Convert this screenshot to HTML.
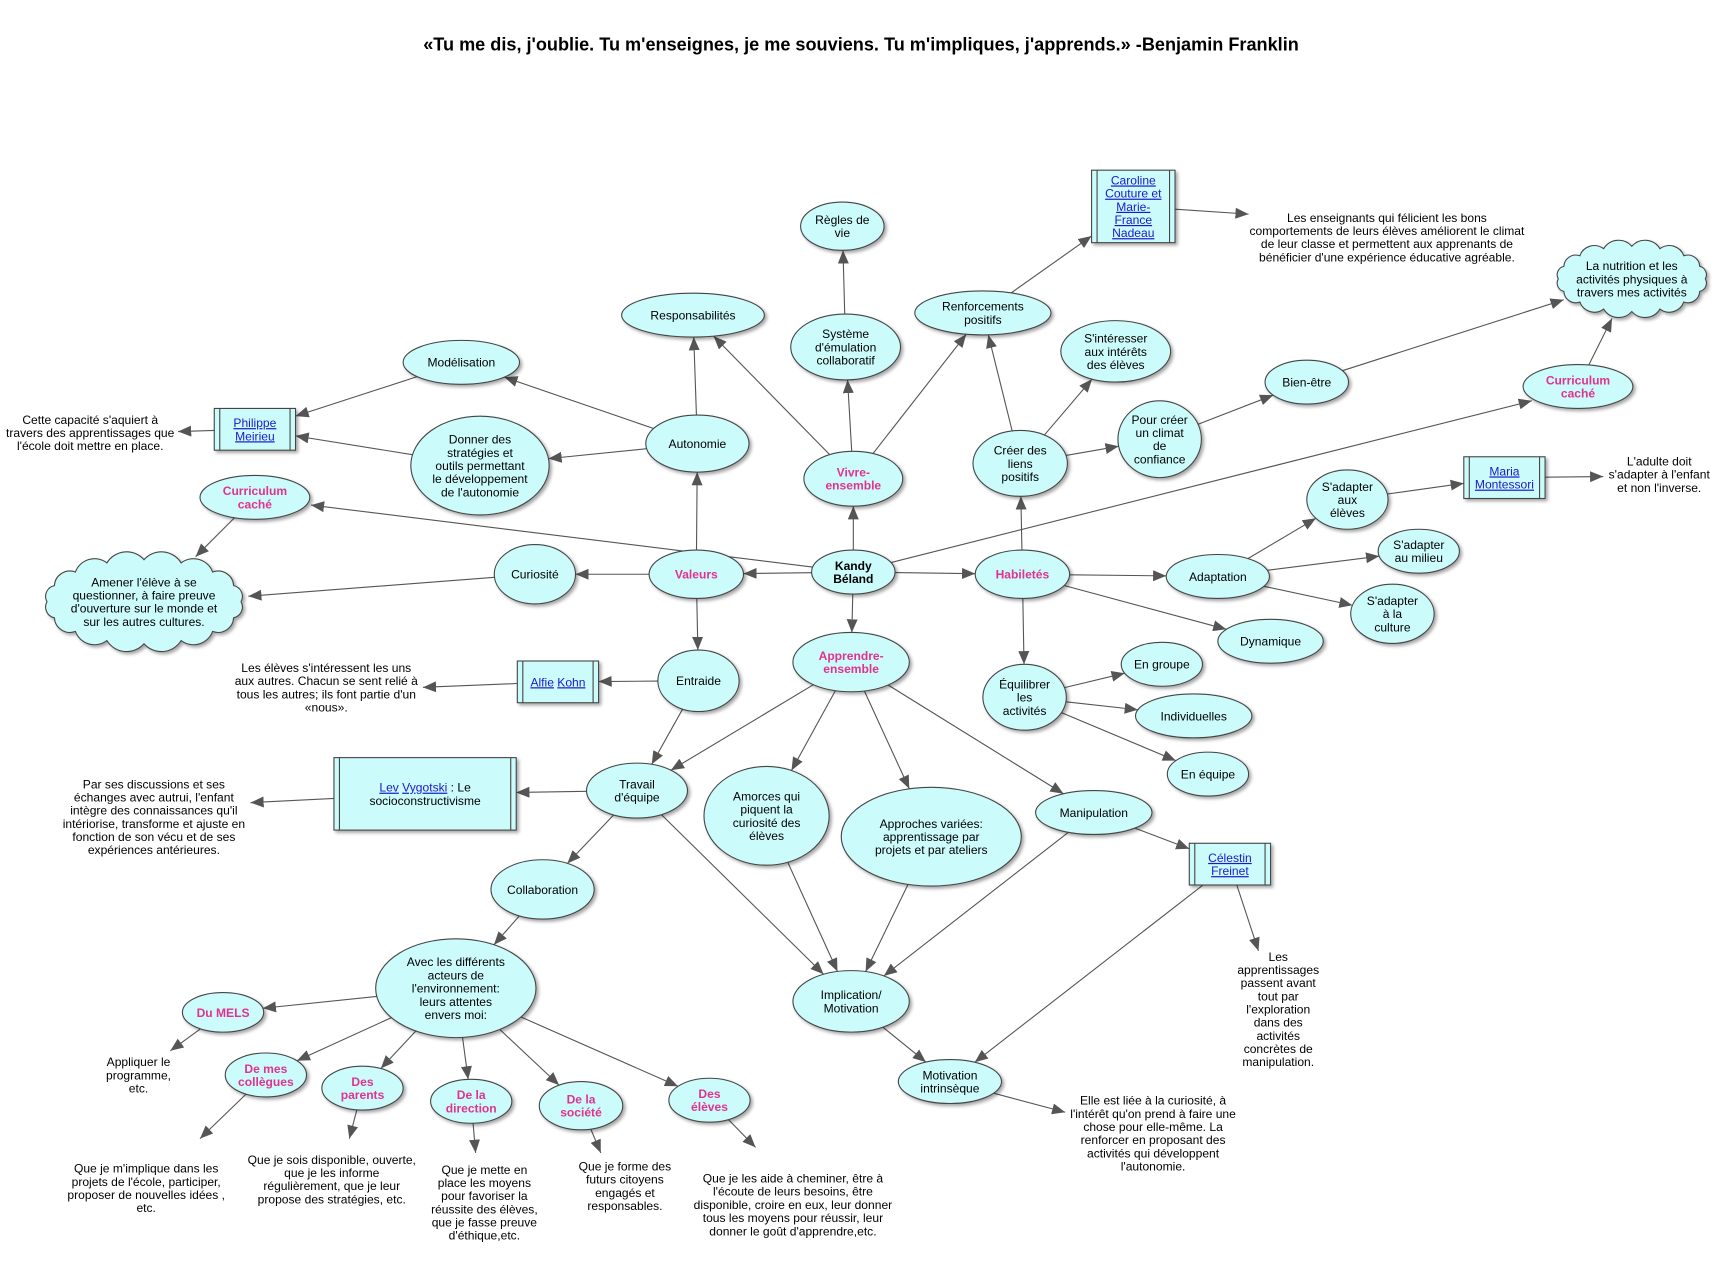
<!DOCTYPE html>
<html><head><meta charset="utf-8"><style>
html,body{margin:0;padding:0;background:#fff;}
svg{display:block;}
text{font-family:"Liberation Sans",Arial,sans-serif;font-size:11px;fill:#000;}
.p{fill:#e0338f;font-weight:bold;}
.b{font-weight:bold;}
.l{fill:#1a1acc;text-decoration:underline;}
</style></head><body>
<svg id="s" width="1722" height="1266" viewBox="0 0 1568 1153" xmlns="http://www.w3.org/2000/svg">
<defs>
<filter id="sh" x="-20%" y="-20%" width="150%" height="150%"><feDropShadow dx="2" dy="2" stdDeviation="1.5" flood-color="#000" flood-opacity="0.35"/></filter>
<marker id="ar" viewBox="0 0 12 10" refX="12" refY="5" markerWidth="12" markerHeight="10" markerUnits="userSpaceOnUse" orient="auto"><path d="M0,0L12,5L0,10z" fill="#555"/></marker>
</defs>
<text x="784" y="46" text-anchor="middle" class="b" style="font-size:16.5px">«Tu me dis, j'oublie. Tu m'enseignes, je me souviens. Tu m'impliques, j'apprends.» -Benjamin Franklin</text>
<g id="E"></g><g id="N"></g><g id="T"></g>
</svg>
<script>
var NS="http://www.w3.org/2000/svg";
function el(t,a,p){var e=document.createElementNS(NS,t);for(var k in a)e.setAttribute(k,a[k]);(p||document.getElementById('N')).appendChild(e);return e;}
var D={
kandy:['e',777,521,38,20,['Kandy','Béland'],'b'],
val:['e',634,523,43,22,['Valeurs'],'p'],
hab:['e',931,523,43,22,['Habiletés'],'p'],
viv:['e',777,436,45,25,['Vivre-','ensemble'],'p'],
app:['e',775,603,53,27,['Apprendre-','ensemble'],'p'],
aut:['e',635,404,47,26,['Autonomie'],''],
cur:['e',487,523,37,27,['Curiosité'],''],
ent:['e',636,620,37,28,['Entraide'],''],
ccl:['e',232,453,50,20,['Curriculum','caché'],'p'],
cloudL:['c',131,548,95,45,["Amener l'élève à se","questionner, à faire preuve","d'ouverture sur le monde et","sur les autres cultures."],''],
resp:['e',631,287,65,20,['Responsabilités'],''],
mod:['e',420,330,53,20,['Modélisation'],''],
don:['e',437,424,63,45,['Donner des','stratégies et','outils permettant','le développement',"de l'autonomie"],''],
mei:['r',232,391,37,19,['Philippe','Meirieu'],'l'],
sys:['e',770,316,50,30,['Système',"d'émulation",'collaboratif'],''],
reg:['e',767,206,38,22,['Règles de','vie'],''],
ren:['e',895,285,62,20,['Renforcements','positifs'],''],
car:['r',1032,188,38,33,['Caroline','Couture et','Marie-','France','Nadeau'],'l'],
cloudR:['c',1486,254,72,35,['La nutrition et les','activités physiques à','travers mes activités'],''],
ccr:['e',1437,352,50,20,['Curriculum','caché'],'p'],
bie:['e',1190,348,38,20,['Bien-être'],''],
cre:['e',929,422,43,30,['Créer des','liens','positifs'],''],
sin:['e',1016,320,50,28,["S'intéresser",'aux intérêts','des élèves'],''],
pou:['e',1056,400,38,35,['Pour créer','un climat','de','confiance'],''],
mon:['r',1370,435,37,19,['Maria','Montessori'],'l'],
sae:['e',1227,455,37,27,["S'adapter",'aux','élèves'],''],
sam:['e',1292,502,37,20,["S'adapter",'au milieu'],''],
ada:['e',1109,525,47,20,['Adaptation'],''],
sac:['e',1268,559,38,27,["S'adapter",'à la','culture'],''],
dyn:['e',1157,584,48,20,['Dynamique'],''],
equ:['e',933,635,38,30,['Équilibrer','les','activités'],''],
egr:['e',1058,605,37,20,['En groupe'],''],
ind:['e',1087,652,53,20,['Individuelles'],''],
eeq:['e',1100,705,37,20,['En équipe'],''],
koh:['r',508,621,37,19,['Alfie Kohn'],'l'],
tra:['e',580,720,46,25,['Travail',"d'équipe"],''],
vyg:['r',387,723,83,33,['Lev Vygotski : Le','socioconstructivisme'],'v'],
col:['e',494,810,47,27,['Collaboration'],''],
avec:['e',415,900,73,45,['Avec les différents','acteurs de',"l'environnement:",'leurs attentes','envers moi:'],''],
mels:['e',203,922,37,18,['Du MELS'],'p'],
col2:['e',242,979,37,20,['De mes','collègues'],'p'],
par:['e',330,991,37,20,['Des','parents'],'p'],
dir:['e',429,1003,37,20,['De la','direction'],'p'],
soc:['e',529,1007,38,22,['De la','société'],'p'],
ele:['e',646,1002,37,20,['Des','élèves'],'p'],
amo:['e',698,743,57,45,['Amorces qui','piquent la','curiosité des','élèves'],''],
apv:['e',848,762,82,45,['Approches variées:','apprentissage par','projets et par ateliers'],''],
man:['e',996,740,53,20,['Manipulation'],''],
fre:['r',1120,787,37,19,['Célestin','Freinet'],'l'],
imp:['e',775,912,53,28,['Implication/','Motivation'],''],
mot:['e',865,985,47,20,['Motivation','intrinsèque'],'']
};
var texts=[
[82,382,["Cette capacité s'aquiert à","travers des apprentissages que","l'école doit mettre en place."]],
[1263,198,["Les enseignants qui félicient les bons","comportements de leurs élèves améliorent le climat","de leur classe et permettent aux apprenants de","bénéficier d'une expérience éducative agréable."]],
[1511,420,["L'adulte doit","s'adapter à l'enfant","et non l'inverse."]],
[297,608,["Les élèves s'intéressent les uns","aux autres. Chacun se sent relié à","tous les autres; ils font partie d'un","«nous»."]],
[140,714,["Par ses discussions et ses","échanges avec autrui, l'enfant","intègre des connaissances qu'il","intériorise, transforme et ajuste en","fonction de son vécu et de ses","expériences antérieures."]],
[126,967,["Appliquer le","programme,","etc."]],
[133,1064,["Que je m'implique dans les","projets de l'école, participer,","proposer de nouvelles idées ,","etc."]],
[302,1056,["Que je sois disponible, ouverte,","que je les informe","régulièrement, que je leur","propose des stratégies, etc."]],
[441,1065,["Que je mette en","place les moyens","pour favoriser la","réussite des élèves,","que je fasse preuve","d'éthique,etc."]],
[569,1062,["Que je forme des","futurs citoyens","engagés et","responsables."]],
[722,1073,["Que je les aide à cheminer, être à","l'écoute de leurs besoins, être","disponible, croire en eux, leur donner","tous les moyens pour réussir, leur","donner le goût d'apprendre,etc."]],
[1164,871,["Les","apprentissages","passent avant","tout par","l'exploration","dans des","activités","concrètes de","manipulation."]],
[1050,1002,["Elle est liée à la curiosité, à","l'intérêt qu'on prend à faire une","chose pour elle-même. La","renforcer en proposant des","activités qui développent","l'autonomie."]]
];
var G=document.getElementById('N'),T=document.getElementById('T'),E=document.getElementById('E');
function cloudPath(cx,cy,rx,ry){var n=16,d='';var pts=[];for(var i=0;i<n;i++){var a=i/n*2*Math.PI;pts.push([cx+rx*Math.cos(a),cy+ry*Math.sin(a)]);}
d='M'+pts[0][0]+','+pts[0][1];for(var i=1;i<=n;i++){var p=pts[i%n],q=pts[i-1];var r=Math.hypot(p[0]-q[0],p[1]-q[1])*0.62;d+=' A'+r+','+r+' 0 0,1 '+p[0]+','+p[1];}return d+'z';}
for(var k in D){var n=D[k],t=n[0],cx=n[1],cy=n[2],rx=n[3],ry=n[4];
 if(t=='e')el('ellipse',{cx:cx,cy:cy,rx:rx,ry:ry,fill:'#ccfbfb',stroke:'#444','stroke-width':1,filter:'url(#sh)'});
 else if(t=='c')el('path',{d:cloudPath(cx,cy,rx*0.93,ry*0.85),fill:'#ccfbfb',stroke:'#444','stroke-width':1,filter:'url(#sh)'});
 else{el('rect',{x:cx-rx,y:cy-ry,width:2*rx,height:2*ry,fill:'#ccfbfb',stroke:'#444','stroke-width':1,filter:'url(#sh)'});
  el('line',{x1:cx-rx+5,y1:cy-ry,x2:cx-rx+5,y2:cy+ry,stroke:'#444'});el('line',{x1:cx+rx-5,y1:cy-ry,x2:cx+rx-5,y2:cy+ry,stroke:'#444'});}
 var L=n[5],lh=12,y0=cy-(L.length-1)*lh/2+4;
 for(var i=0;i<L.length;i++){var tx=el('text',{x:cx,y:y0+i*lh,'text-anchor':'middle'},T);
  if(n[6]=='v'&&i==0){tx.innerHTML='<tspan class="l">Lev</tspan> <tspan class="l">Vygotski</tspan> : Le';}
  else if(k=='koh'){tx.innerHTML='<tspan class="l">Alfie</tspan> <tspan class="l">Kohn</tspan>';}
  else{if(n[6])tx.setAttribute('class',n[6]);tx.textContent=L[i];}}
}
texts.forEach(function(t){t[2].forEach(function(s,i){var e=el('text',{x:t[0],y:t[1]+i*12+4,'text-anchor':'middle'},T);e.textContent=s;});});
function bd(n,dx,dy){var rx=n[3],ry=n[4],tt;if(n[0]=='r'){tt=Math.min(rx/Math.abs(dx||1e-9),ry/Math.abs(dy||1e-9));}else{tt=1/Math.sqrt(dx*dx/(rx*rx)+dy*dy/(ry*ry));}return [n[1]+dx*tt,n[2]+dy*tt];}
function edge(a,b){var A=D[a],p,q;var bx,by;
 if(typeof b=='string'){var B=D[b];bx=B[1];by=B[2];}else{bx=b[0];by=b[1];}
 p=bd(A,bx-A[1],by-A[2]);
 if(typeof b=='string'){q=bd(D[b],A[1]-bx,A[2]-by);}else q=b;
 el('line',{x1:p[0],y1:p[1],x2:q[0],y2:q[1],stroke:'#555','stroke-width':1,'marker-end':'url(#ar)'},E);}
[['kandy','val'],['kandy','hab'],['kandy','viv'],['kandy','app'],['kandy',[283,460]],['kandy',[1395,365]],
['val','aut'],['val','cur'],['val','ent'],['aut','resp'],['aut','mod'],['aut','don'],['mod','mei'],['don','mei'],['mei',[162,393]],
['cur',[226,543]],['ccl',[178,507]],['ent','koh'],['koh',[385,626]],['ent','tra'],
['viv','resp'],['viv','sys'],['viv','ren'],['sys','reg'],['ren','car'],['car',[1137,195]],
['cre','ren'],['cre','sin'],['cre','pou'],['pou','bie'],['bie',[1424,273]],['ccr',[1468,290]],
['hab','cre'],['hab','ada'],['hab','dyn'],['hab','equ'],['ada','sae'],['ada','sam'],['ada','sac'],['sae','mon'],['mon',[1460,434]],
['equ','egr'],['equ','ind'],['equ','eeq'],
['app','tra'],['app','amo'],['app','apv'],['app','man'],['tra','vyg'],['vyg',[228,731]],['tra','col'],['tra','imp'],
['col','avec'],['avec','mels'],['avec','col2'],['avec','par'],['avec','dir'],['avec','soc'],['avec','ele'],
['mels',[155,957]],['col2',[182,1037]],['par',[318,1037]],['dir',[433,1050]],['soc',[547,1050]],['ele',[688,1045]],
['amo','imp'],['apv','imp'],['man','imp'],['man','fre'],['fre',[1146,866]],['fre','mot'],['imp','mot'],['mot',[970,1013]]
].forEach(function(e){edge(e[0],e[1]);});
</script>
</body></html>
